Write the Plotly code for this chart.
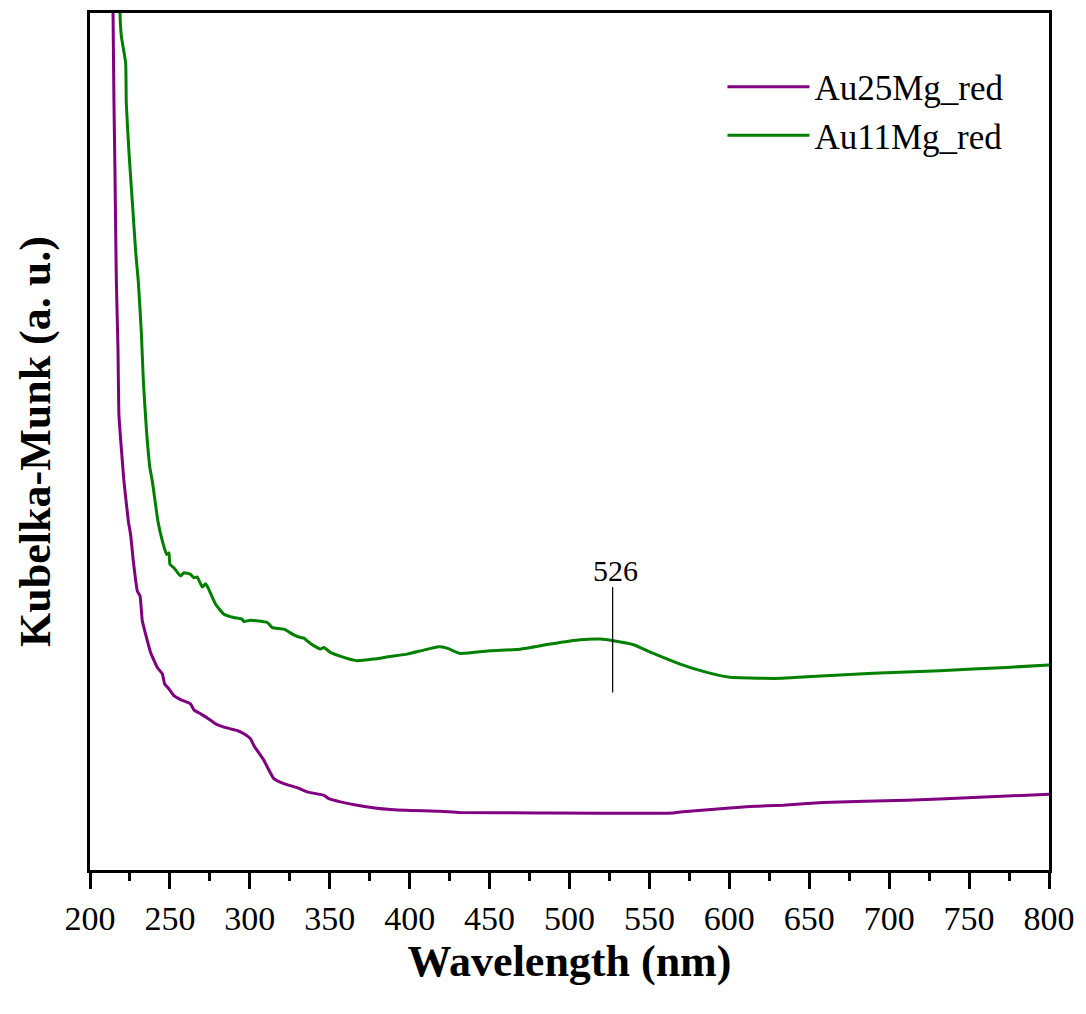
import plotly.graph_objects as go

# Wavelength (nm) and Kubelka-Munk (a.u.)
wl_au25 = [213.5, 214.4, 215.0, 215.6, 216.1, 216.5, 217.5, 218.1, 219.6, 221.25, 224.0, 225.4,
           227.1, 229.6, 231.3, 232.7, 234.8, 237.9, 242.1, 245.3, 246.7, 249.4, 252.5,
           256.7, 262.9, 265.0, 269.2, 273.4, 278.6, 283.8, 287.9, 292.1, 296.3, 300.4,
           302.5, 308.8, 315.0, 321.3, 329.6, 335.9, 346.3, 349.4, 356.7, 367.1, 387.9,
           408.8, 419.2, 431.7, 481.7, 565.0, 569.2, 596.3, 612.9, 633.8, 658.8, 710.9,
           752.5, 800.0]
km_au25 = [112.0, 100.0, 89.5, 81.8, 74.1, 68.6, 60.85, 53.1, 49.2, 45.35, 40.7, 39.15,
           36.05, 32.56, 31.98, 29.07, 27.52, 25.39, 23.64, 22.87, 21.71, 21.12, 20.35,
           19.88, 19.38, 18.68, 18.22, 17.75, 17.05, 16.67, 16.47, 16.28, 15.89, 15.31,
           14.53, 12.79, 10.66, 10.08, 9.61, 9.11, 8.72, 8.33, 7.95, 7.56, 7.05,
           6.90, 6.86, 6.71, 6.66, 6.66, 6.78, 7.17, 7.42, 7.56, 7.87, 8.14,
           8.45, 8.84]

wl_au11 = [218.0, 218.75, 219.6, 222.3, 222.7, 224.4, 226.5, 228.6, 230.25, 232.1, 233.4,
           235.4, 237.5, 239.0, 242.5, 245.3, 247.9, 249.4, 250.0, 252.5, 256.7, 258.8,
           262.9, 265.0, 267.1, 270.3, 272.3, 273.8, 278.6, 283.8, 290.0, 295.2, 296.3,
           300.4, 310.9, 314.0, 321.3, 327.5, 331.7, 333.8, 337.9, 344.2, 346.3, 350.4,
           358.8, 367.1, 377.5, 387.9, 398.4, 408.8, 418.1, 423.4, 431.7, 450.4, 469.2,
           487.9, 506.7, 519.2, 527.5, 540.0, 552.5, 569.2, 585.9, 600.4, 612.9, 631.7,
           648.4, 690.0, 731.7, 773.4, 800.0]
km_au11 = [108.0, 100.0, 97.3, 94.2, 89.5, 83.7, 77.9, 72.1, 68.6, 62.8, 56.98,
           51.16, 46.9, 45.35, 40.7, 38.37, 36.82, 37.0, 35.66, 35.27, 34.3, 34.69,
           34.5, 34.1, 34.19, 33.02, 33.41, 32.95, 31.01, 29.85, 29.46, 29.26, 28.99,
           29.15, 28.88, 28.29, 28.1, 27.44, 27.13, 27.06, 26.43, 25.78, 25.97, 25.39,
           24.81, 24.42, 24.61, 24.92, 25.19, 25.66, 26.05, 25.89, 25.27, 25.58, 25.77,
           26.36, 26.86, 26.94, 26.74, 26.28, 25.27, 24.03, 23.06, 22.48, 22.40, 22.36,
           22.56, 22.95, 23.26, 23.64, 23.92]

peak_label = "526"
peak_line_x = 527
peak_line_y = [20.7, 33.0]
peak_label_x = 528.5
peak_label_y = 35.0

x_ticks = [200, 250, 300, 350, 400, 450, 500, 550, 600, 650, 700, 750, 800]

FONT = "Liberation Serif, Times New Roman, serif"

fig = go.Figure()
fig.add_trace(go.Scatter(x=wl_au25, y=km_au25, mode="lines", name="Au25Mg_red",
                         line=dict(color="#800080", width=3, shape="spline", smoothing=0.4)))
fig.add_trace(go.Scatter(x=wl_au11, y=km_au11, mode="lines", name="Au11Mg_red",
                         line=dict(color="#008000", width=3, shape="spline", smoothing=0.4)))

fig.add_shape(type="line", xref="x", yref="y", x0=peak_line_x, x1=peak_line_x,
              y0=peak_line_y[0], y1=peak_line_y[1], line=dict(color="black", width=1.2))
fig.add_annotation(x=peak_label_x, y=peak_label_y, xref="x", yref="y", text=peak_label,
                   showarrow=False, font=dict(family=FONT, size=30, color="black"))

fig.update_layout(
    width=1086, height=1014,
    margin=dict(l=90, r=37, t=10, b=144),
    paper_bgcolor="white", plot_bgcolor="white",
    font=dict(family=FONT, color="black"),
    showlegend=True,
    legend=dict(x=0.6595, y=0.948, xanchor="left", yanchor="top",
                font=dict(family=FONT, size=35, color="black"),
                bgcolor="rgba(0,0,0,0)", tracegroupgap=0, itemwidth=82),
)
fig.update_xaxes(
    range=[200, 800], tickvals=x_ticks, ticktext=[str(t) for t in x_ticks],
    ticks="outside", ticklen=16, tickwidth=3, tickcolor="black",
    minor=dict(dtick=25, ticks="outside", ticklen=8, tickwidth=3, tickcolor="black"),
    showline=True, linewidth=3, linecolor="black", mirror=True,
    showgrid=False, zeroline=False,
    tickfont=dict(family=FONT, size=34, color="black"),
    title=dict(text="Wavelength (nm)", standoff=10,
               font=dict(family=FONT, size=44, color="black", weight="bold")),
)
fig.update_yaxes(
    range=[0, 100], showticklabels=False, ticks="",
    showline=True, linewidth=3, linecolor="black", mirror=True,
    showgrid=False, zeroline=False,
    title=dict(text="Kubelka-Munk (a. u.)", standoff=23,
               font=dict(family=FONT, size=44, color="black", weight="bold")),
)

fig.write_html("out.html")
